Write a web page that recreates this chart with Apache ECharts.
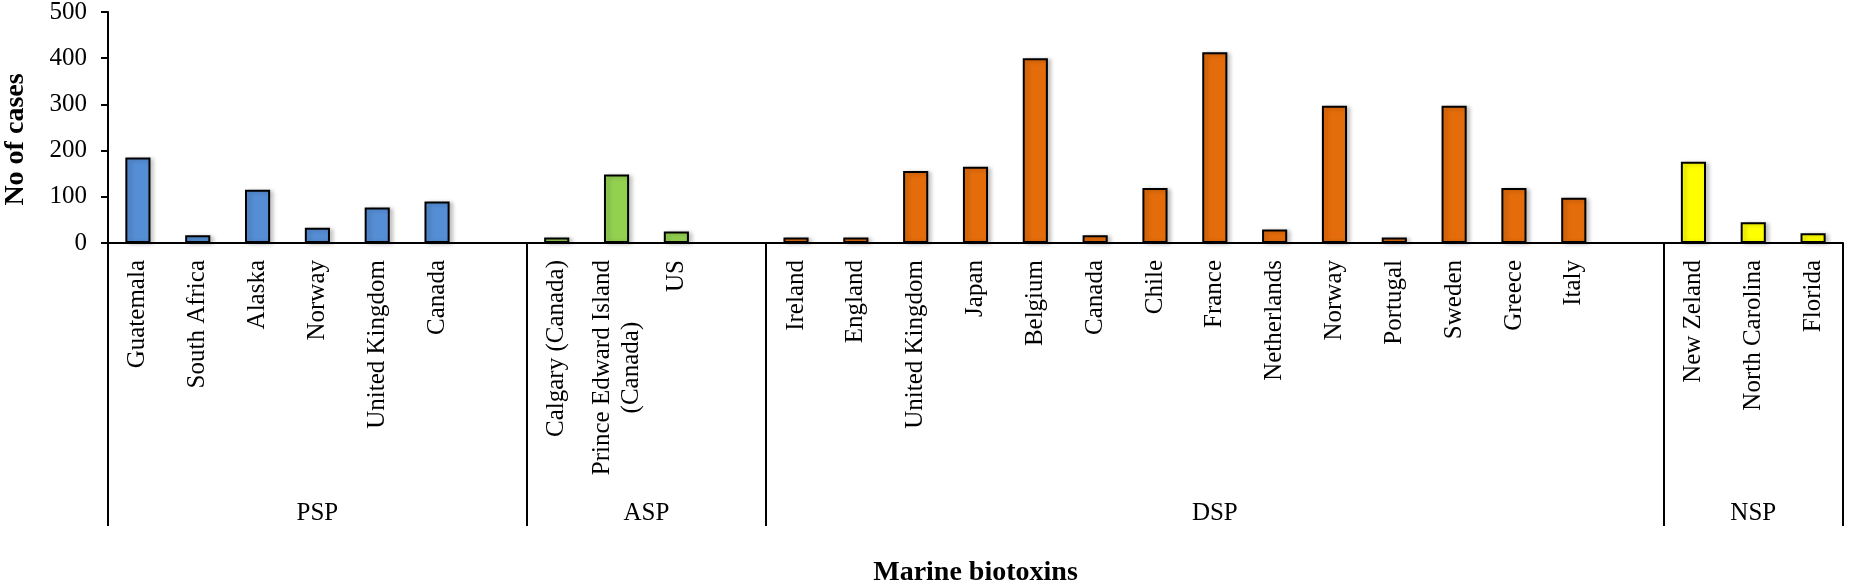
<!DOCTYPE html>
<html>
<head>
<meta charset="utf-8">
<title>Marine biotoxins</title>
<script src="https://cdn.jsdelivr.net/npm/echarts@6/dist/echarts.min.js"></script>
<style>
  html, body { margin: 0; padding: 0; background: #fff; }
  #chart { width: 1850px; height: 587px; }
</style>
</head>
<body>
<div id="chart"></div>
<script>
// groups of the category axis
var groupNames = ['PSP', 'ASP', 'DSP', 'NSP'];
var groupColors = ['#558ED5', '#92D050', '#E46C0A', '#FFFF00'];

var pspPlaces = ['Guatemala', 'South Africa', 'Alaska', 'Norway', 'United Kingdom', 'Canada'];
var pspCases  = [185, 17, 115, 33, 77, 90];

var aspPlaces = ['Calgary (Canada)', 'Prince Edward Island\n(Canada)', 'US'];
var aspCases  = [12, 148, 25];

var dspPlaces = ['Ireland', 'England', 'United Kingdom', 'Japan', 'Belgium', 'Canada', 'Chile',
                 'France', 'Netherlands', 'Norway', 'Portugal', 'Sweden', 'Greece', 'Italy'];
var dspCases  = [12, 12, 156, 165, 400, 17, 119, 413, 29, 297, 12, 297, 119, 98];

var nspPlaces = ['New Zeland', 'North Carolina', 'Florida'];
var nspCases  = [176, 45, 21];

var yTicks = [0, 100, 200, 300, 400, 500];

var groupPlaces = [pspPlaces, aspPlaces, dspPlaces, nspPlaces];
var groupCases = [pspCases, aspCases, dspCases, nspCases];

// flatten: one blank slot after every group but the last
var categories = [];
var barData = [];
var bounds = [0];
var centers = [];
groupPlaces.forEach(function (places, g) {
    var start = categories.length;
    places.forEach(function (p, i) {
        categories.push(p);
        barData.push({ value: groupCases[g][i], itemStyle: { color: groupColors[g] } });
    });
    if (g < groupPlaces.length - 1) {
        categories.push('');
        barData.push('-');
    }
    bounds.push(categories.length);
    centers.push((start + categories.length) / 2);
});

var serif = 'Liberation Serif';
var chart = echarts.init(document.getElementById('chart'));

chart.setOption({
    backgroundColor: '#fff',
    animation: false,
    grid: { left: 108, right: 7, top: 12, bottom: 344, containLabel: false, outerBoundsMode: 'none' },
    xAxis: [
        {
            type: 'category',
            data: categories,
            axisLine: { lineStyle: { color: '#000', width: 2 } },
            axisTick: { show: false },
            axisLabel: {
                interval: 0,
                rotate: 90,
                margin: 17,
                color: '#000',
                fontFamily: serif,
                fontSize: 25,
                formatter: function (v) {
                    if (!v) return '';
                    return v.split('\n').map(function (s) { return '{c|' + s + '}'; }).join('\n');
                },
                rich: {
                    c: { align: 'center', fontFamily: serif, fontSize: 25, color: '#000', lineHeight: 29 }
                }
            },
            name: 'Marine biotoxins',
            nameLocation: 'middle',
            nameGap: 316,
            nameTextStyle: { fontFamily: serif, fontSize: 28, fontWeight: 'bold', color: '#000' }
        },
        {
            type: 'value',
            min: 0,
            max: categories.length,
            position: 'bottom',
            axisLine: { show: false },
            splitLine: { show: false },
            axisTick: {
                show: true,
                customValues: bounds,
                length: 283,
                lineStyle: { color: '#000', width: 2 }
            },
            axisLabel: {
                customValues: centers,
                margin: 258,
                color: '#000',
                fontFamily: serif,
                fontSize: 25,
                formatter: function (v) {
                    var i = centers.indexOf(v);
                    return i >= 0 ? groupNames[i] : '';
                }
            }
        }
    ],
    yAxis: {
        type: 'value',
        min: 0,
        max: 500,
        interval: 100,
        axisLine: { show: true, lineStyle: { color: '#000', width: 2 } },
        axisTick: { show: true, length: 7, lineStyle: { color: '#000', width: 2 } },
        splitLine: { show: false },
        axisLabel: {
            margin: 21,
            color: '#000',
            fontFamily: serif,
            fontSize: 25,
            formatter: function (v) { return yTicks.indexOf(v) >= 0 ? String(v) : ''; }
        },
        name: 'No of cases',
        nameLocation: 'middle',
        nameGap: 78,
        nameTextStyle: {
            fontFamily: serif, fontSize: 28, fontWeight: 'bold', color: '#000',
            padding: [0, 24, 0, 0]
        }
    },
    series: [
        {
            type: 'bar',
            xAxisIndex: 0,
            data: barData,
            barWidth: '42%',
            itemStyle: {
                borderColor: '#000',
                borderWidth: 2,
                shadowColor: 'rgba(0,0,0,0.22)',
                shadowBlur: 4,
                shadowOffsetX: 3,
                shadowOffsetY: 1
            }
        }
    ]
});
</script>
</body>
</html>
